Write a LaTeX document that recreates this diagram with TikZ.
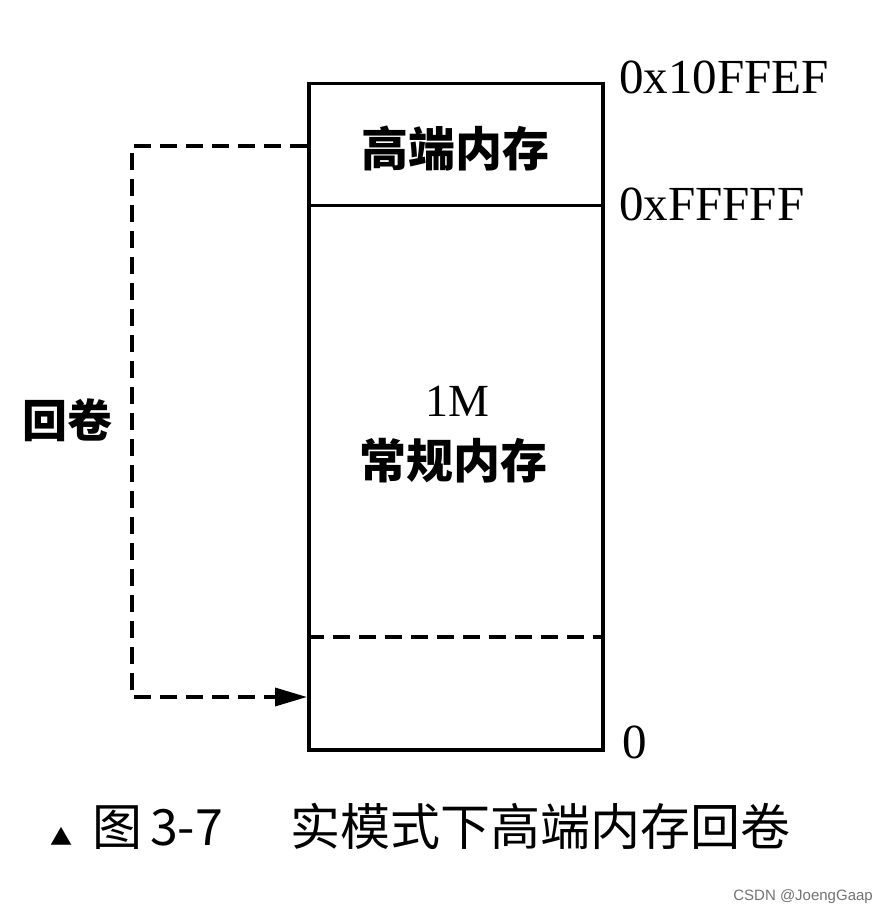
\documentclass[tikz,border=0pt]{standalone}
\usepackage{fontspec}
\setmainfont{Liberation Serif}
\newfontfamily\cjk{Noto Sans CJK SC}
\newfontfamily\wm{Liberation Sans}
\usetikzlibrary{arrows.meta}
\begin{document}
\begin{tikzpicture}[x=1pt,y=-1pt,
  box/.style={draw, line width=3.5pt, minimum width=294pt, inner sep=0pt, anchor=north west},
  dashline/.style={line width=3.5pt, dash pattern=on 17pt off 9pt},
  hexlabel/.style={anchor=west, font=\fontsize{49}{49}\selectfont, inner sep=0pt},
  cnlabel/.style={font=\cjk\bfseries\fontsize{47}{47}\selectfont, inner sep=0pt}]
\useasboundingbox (0,0) rectangle (886,917);
\fill[white] (0,0) rectangle (886,917);
% memory boxes
\node[box, minimum height=122pt] (high) at (307,82) {};
\node[box, minimum height=544pt] (low) at (307,204) {};
\coordinate (dl) at (307,637);
\coordinate (dr) at (601,637);
\draw[dashline] (dl) -- (dr);
\coordinate (target) at (307,697);
\coordinate (src) at (307,146);
% wrap connector
\draw[dashline, -{Triangle[length=32pt,width=18pt]}] (src) -- (132,146) |- (target);
% texts
\node[cnlabel] (hightext) at (455,149) {高端内存};
\node[inner sep=0pt, font=\fontsize{46}{46}\selectfont] (onem) at (457,401) {1M};
\node[cnlabel] (regtext) at (453,461) {常规内存};
\node[cnlabel, font=\cjk\bfseries\fontsize{45}{45}\selectfont] (wrap) at (67,420) {回卷};
\node[hexlabel] (a1) at (619,77) {0x10FFEF};
\node[hexlabel] (a2) at (619,204) {0xFFFFF};
\node[hexlabel] (a3) at (622,742) {0};
\node[anchor=west, inner sep=0pt, font=\cjk\fontsize{50}{50}\selectfont] (cap) at (50,826)
  {\makebox[42pt][l]{\fontsize{22}{22}\selectfont ▲}\makebox[58pt][l]{图}\makebox[140pt][l]{3-7}实模式下高端内存回卷};
\node[anchor=east, inner sep=0pt, text=black!55, font=\wm\fontsize{15}{15}\selectfont] (csdn) at (873,897) {CSDN @JoengGaap};
\end{tikzpicture}
\end{document}
